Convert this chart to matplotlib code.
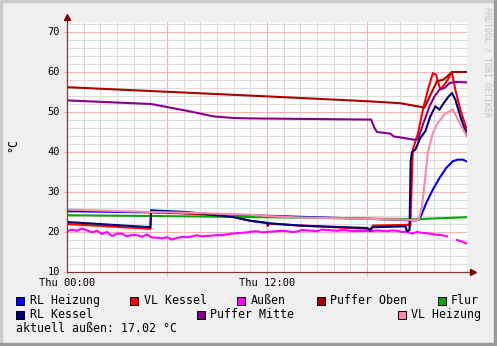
import numpy as np
import matplotlib
matplotlib.use('Agg')
import matplotlib.pyplot as plt
from matplotlib.patches import Rectangle

plt.rcParams['font.family'] = ['DejaVu Sans Mono']

W, H = 497, 346

# ---- data (hours since Thu 00:00, degrees C) ----
rl_heizung_h = [0, 5, 11, 14, 18, 20.9, 21.15, 21.55, 21.95, 22.35, 22.75, 23.15, 23.45, 23.75, 24]
rl_heizung_v = [25.2, 24.9, 24.2, 23.8, 23.3, 22.9, 23.1, 27.2, 30.6, 33.5, 36.0, 37.7, 38.1, 38.1, 37.6]

vl_kessel_h = [0, 5.0, 5.05, 10, 11, 12.0, 12.05, 12.12, 14, 18.0, 18.3, 18.35, 20.5, 20.6, 20.75,
               21.05, 21.35, 21.65, 21.95, 22.15, 22.4, 22.7, 22.9, 23.1, 23.3, 23.6, 24]
vl_kessel_v = [22.0, 20.8, 25.3, 23.8, 22.8, 22.2, 21.4, 22.1, 21.6, 20.8, 20.8, 21.6, 21.8, 21.4, 40.6,
               44.5, 50.5, 55.5, 59.7, 59.3, 55.6, 57.2, 58.5, 59.9, 55.6, 50.6, 45.4]

aussen_h = [0.0, 0.3, 0.6, 0.9, 1.2, 1.5, 1.8, 2.1, 2.4, 2.7, 3.0, 3.3, 3.6, 3.9, 4.2, 4.5, 4.8, 5.1,
            5.4, 5.7, 6.0, 6.3, 6.6, 6.9, 7.2, 7.5, 7.8, 8.1, 8.4, 8.7, 9.0, 9.3, 9.6, 9.9, 10.2, 10.5,
            10.8, 11.1, 11.4, 11.7, 12.0, 12.3, 12.6, 12.9, 13.2, 13.5, 13.8, 14.1, 14.4, 14.7, 15.0,
            15.3, 15.6, 15.9, 16.2, 16.5, 16.8, 17.1, 17.4, 17.7, 18.0, 18.3, 18.6, 18.9, 19.2, 19.5,
            19.8, 20.1, 20.4, 20.7, 21.0, 21.3, 21.6, 21.9, 22.2, 22.5, 22.8, 23.1, 23.4, 23.7, 24.0]
aussen_v = [20.2, 20.6, 20.3, 20.9, 20.4, 19.9, 20.3, 19.5, 20.0, 19.0, 19.6, 19.6, 18.9, 19.3, 19.2,
            18.8, 19.4, 18.6, 18.6, 18.4, 18.7, 18.1, 18.5, 18.8, 18.7, 18.9, 19.2, 18.9, 19.0, 19.1,
            19.2, 19.2, 19.4, 19.6, 19.7, 19.8, 19.9, 20.1, 20.2, 19.9, 20.0, 20.1, 20.2, 20.3, 20.2,
            20.0, 20.1, 20.5, 20.4, 20.3, 20.2, 20.6, 20.5, 20.4, 20.3, 20.5, 20.4, 20.2, 20.3, 20.2,
            20.3, 20.2, 20.4, 20.3, 20.2, 20.4, 20.3, 20.0, 20.1, 19.6, 20.0, 19.8, 19.7, 19.5, 19.3,
            19.2, 18.9, np.nan, 18.0, 17.6, 17.1]

puffer_oben_h = [0, 11, 18, 20.0, 21.45, 22.2, 22.6, 23.1, 24]
puffer_oben_v = [56.2, 54.1, 52.7, 52.2, 51.1, 57.7, 58.1, 60.0, 60.0]

flur_h = [0, 7.6, 15.8, 20.9, 24]
flur_v = [24.2, 23.9, 23.5, 23.2, 23.7]

rl_kessel_h = [0, 5.0, 5.05, 7.2, 10, 11, 12.0, 12.05, 12.1, 14, 18.0, 18.2, 18.3, 20.3, 20.4, 20.55,
               20.62, 20.7, 20.9, 21.2, 21.5, 21.8, 22.1, 22.35, 22.6, 22.9, 23.1, 23.3, 23.6, 24]
rl_kessel_v = [22.5, 21.2, 25.4, 25.0, 23.7, 22.8, 22.3, 21.9, 22.2, 21.6, 21.0, 20.4, 21.2, 21.4, 20.2,
               20.5, 37.7, 40.0, 40.6, 43.5, 45.2, 48.9, 51.4, 50.6, 52.2, 53.9, 54.7, 53.1, 48.9, 44.0]

puffer_mitte_h = [0, 5.05, 7.2, 8.8, 10, 11, 18.25, 18.45, 18.6, 19.4, 19.6, 20.8, 21.05, 21.35, 21.75,
                  22.05, 22.35, 22.65, 22.95, 23.25, 24]
puffer_mitte_v = [52.9, 52.0, 50.3, 48.9, 48.5, 48.4, 48.1, 46.0, 45.0, 44.6, 43.9, 43.1, 43.1, 46.8, 51.4,
                  53.9, 55.6, 56.0, 57.2, 57.5, 57.4]

vl_heizung_h = [0, 5, 7.5, 11, 12, 14, 18, 20.9, 21.1, 21.3, 21.5, 21.65, 21.95, 22.25, 22.65, 22.95,
                23.15, 23.55, 24]
vl_heizung_v = [25.6, 25.0, 24.8, 24.3, 24.0, 23.6, 23.3, 23.0, 23.1, 26.4, 33.9, 39.8, 44.8, 47.3, 49.4,
                50.2, 50.6, 47.3, 43.9]

series = [
    ('RL Heizung', rl_heizung_h, rl_heizung_v, '#0000FF'),
    ('VL Kessel', vl_kessel_h, vl_kessel_v, '#FF0000'),
    ('Außen', aussen_h, aussen_v, '#FF00FF'),
    ('Puffer Oben', puffer_oben_h, puffer_oben_v, '#AA0000'),
    ('Flur', flur_h, flur_v, '#00AA00'),
    ('RL Kessel', rl_kessel_h, rl_kessel_v, '#000077'),
    ('Puffer Mitte', puffer_mitte_h, puffer_mitte_v, '#880088'),
    ('VL Heizung', vl_heizung_h, vl_heizung_v, '#FF88AA'),
]

x_ticks = [0, 12]
x_labels = ['Thu 00:00', 'Thu 12:00']
y_ticks = [10, 20, 30, 40, 50, 60, 70]
current_text = 'aktuell außen: 17.02 °C'


def fx(px):
    return px / W


def fy(py):
    return 1 - py / H


fig = plt.figure(figsize=(W / 100, H / 100), dpi=100, facecolor='#F0F0F0')

# frame shading like rrdtool
fig.patches.append(Rectangle((0, fy(2)), 1, 2 / H, transform=fig.transFigure, color='#CBCBCB', zorder=0))
fig.patches.append(Rectangle((0, 0), 2 / W, 1, transform=fig.transFigure, color='#CBCBCB', zorder=0))
fig.patches.append(Rectangle((0, 0), 1, 3 / H, transform=fig.transFigure, color='#999999', zorder=0))
fig.patches.append(Rectangle((fx(494), 0), 3 / W, 1, transform=fig.transFigure, color='#999999', zorder=0))

ax = fig.add_axes([fx(67), fy(272), 400 / W, 250 / H])
ax.set_facecolor('white')
ax.set_xlim(0, 24)
ax.set_ylim(10, 72.5)

# grid
for h in range(1, 25):
    c = '#F4B4B4' if h % 6 == 0 else '#DCDCDC'
    ax.axvline(h, color=c, lw=0.75, zorder=1)
for v in range(12, 73, 2):
    c = '#F4B4B4' if v % 10 == 0 else '#DCDCDC'
    ax.axhline(v, color=c, lw=0.75, zorder=1)

for name, hh, vv, col in series:
    ax.plot(hh, vv, color=col, lw=1.5, zorder=3, solid_joinstyle='miter')

for s in ['top', 'right']:
    ax.spines[s].set_visible(False)
for s in ['left', 'bottom']:
    ax.spines[s].set_color('#7F3A3A')
    ax.spines[s].set_linewidth(0.9)
    ax.spines[s].set_zorder(4)

ax.set_xticks([0, 6, 12, 18])
ax.set_xticklabels([])
ax.set_yticks(y_ticks)
ax.set_yticklabels([])
ax.tick_params(axis='both', length=3, width=0.75, color='#F4B4B4')

# arrows
ax.plot([24, 24.35], [10, 10], color='#7F3A3A', lw=0.9, clip_on=False, zorder=5)
ax.plot([24.35], [10], marker='>', color='#7F0000', ms=4, clip_on=False, zorder=5)
ax.plot([0, 0], [72.5, 73.7], color='#7F3A3A', lw=0.9, clip_on=False, zorder=5)
ax.plot([0], [73.7], marker='^', color='#7F0000', ms=4, clip_on=False, zorder=5)

# tick labels
for h, lab in zip(x_ticks, x_labels):
    fig.text(fx(67 + h * 400 / 24), fy(283), lab, ha='center', va='center', fontsize=7.5)
for v in y_ticks:
    py = 272 - (v - 10) * 4
    fig.text(fx(60), fy(py), str(v), ha='right', va='center', fontsize=7.5)

fig.text(fx(13), fy(145), '°C', rotation=90, ha='center', va='center', fontsize=8.4)
fig.text(fx(487), fy(62), 'RRDTOOL / TOBI OETIKER', rotation=270, ha='center', va='center',
         fontsize=6, color='#C2C2C2')

# legend
legend_pos = [(16, 130, 300.5), (130, 144, 300.5), (237, 251, 300.5), (316.5, 330, 300.5),
              (437.5, 451, 300.5), (16, 30, 314.5), (196.5, 210, 314.5), (397.5, 411, 314.5)]
for (name, hh, vv, col), (sx, tx, cy) in zip(series, legend_pos):
    if name == 'RL Heizung':
        tx = 30
    fig.patches.append(Rectangle((fx(sx), fy(cy + 4)), 8 / W, 8 / H, transform=fig.transFigure,
                                 facecolor=col, edgecolor='black', lw=0.7))
    fig.text(fx(tx), fy(cy), name, ha='left', va='center', fontsize=8.4)

fig.text(fx(16), fy(328.5), current_text, ha='left', va='center', fontsize=8.4)

fig.savefig('out.png', dpi=100, facecolor=fig.get_facecolor())
